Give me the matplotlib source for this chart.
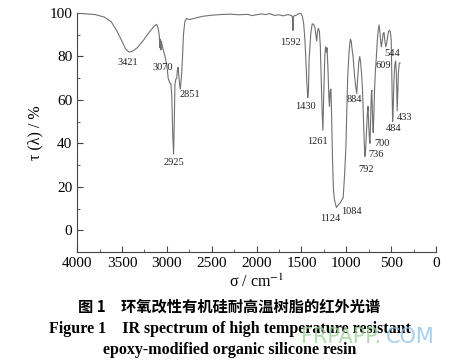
import matplotlib
matplotlib.use("Agg")
import matplotlib.pyplot as plt
from matplotlib.ticker import MultipleLocator

# spectrum (wavenumber / cm-1, transmittance / %)
wavenumber = [4000, 3900, 3800, 3700, 3620, 3560, 3500, 3460, 3421, 3380, 3330, 3260, 3200, 3140,
              3115, 3100, 3085, 3078, 3072, 3066, 3060, 3052, 3040, 3020, 3000, 2985, 2970, 2955,
              2945, 2935, 2925, 2917, 2910, 2900, 2890, 2882, 2875, 2868, 2860, 2851, 2843, 2835,
              2825, 2815, 2800, 2780, 2750, 2700, 2600, 2500, 2400, 2300, 2200, 2100, 2050, 2000,
              1950, 1900, 1850, 1800, 1750, 1700, 1650, 1610, 1600, 1594, 1590, 1560, 1530, 1510,
              1490, 1475, 1462, 1450, 1440, 1430, 1422, 1415, 1405, 1395, 1380, 1365, 1350, 1340,
              1330, 1322, 1312, 1300, 1290, 1280, 1270, 1261, 1252, 1240, 1230, 1222, 1215, 1205,
              1195, 1188, 1180, 1172, 1165, 1155, 1145, 1135, 1124, 1110, 1100, 1084, 1070, 1050,
              1035, 1020, 1005, 995, 985, 970, 955, 945, 935, 925, 910, 895, 884, 875, 862, 850,
              840, 830, 820, 810, 800, 792, 785, 775, 765, 758, 750, 742, 736, 730, 722, 716, 710,
              704, 700, 694, 685, 675, 665, 655, 645, 635, 625, 615, 609, 600, 590, 580, 570, 560,
              550, 540, 530, 520, 510, 500, 492, 484, 478, 470, 460, 450, 442, 437, 433, 428, 420,
              410, 400]
transmittance = [100, 99.6, 99.3, 98.2, 96, 92, 87, 83.5, 82, 82.5, 84, 87.5, 91, 94,
                 94.8, 93.5, 90, 84, 88, 83, 87, 85, 83, 80, 76, 70, 68, 67.5,
                 62, 45, 35, 50, 67, 69.5, 70, 74, 75, 72, 68, 65, 68, 72,
                 80, 90, 96, 97.5, 97, 97.5, 98.5, 99, 99.3, 99.5, 99.2, 99.4, 98.8, 99.2,
                 99.6, 99.3, 99.7, 98.9, 99.2, 98.7, 99.3, 98.8, 98, 92, 98.5, 99, 99.7, 100,
                 98.5, 95, 88, 78, 68, 61, 64, 78, 85, 91, 95, 94.8, 93.5, 90,
                 87, 91, 93, 91.5, 85, 70, 55, 46, 62, 80, 84.5, 82, 84, 75,
                 62, 57, 64, 65, 55, 35, 20, 15, 12.5, 10.5, 11, 12, 12.5, 14,
                 15, 25, 38, 55, 70, 82, 88, 87, 83, 80, 72, 66, 63, 69, 77, 80,
                 77, 72, 65, 52, 40, 34, 37, 46, 54, 57, 48, 42, 40, 50, 62, 64.5, 55,
                 48, 45, 52, 65, 74, 80, 87, 92, 94.5, 91, 86, 84.5, 87, 90.5, 91, 87, 84.5,
                 86, 89, 91.5, 92, 91.5, 88, 70, 50, 55, 68, 76, 78, 72, 62, 55, 62, 72,
                 77, 77]

# peak labels and where they sit
peak_labels = ["3421", "3070", "2851", "2925", "1592", "1430", "1261", "1124", "1084",
               "884", "792", "736", "700", "609", "544", "484", "433"]
label_x = [3432, 3042, 2741, 2920, 1627, 1457, 1323, 1175, 940,
           911, 781, 669, 606, 587, 494, 476, 357]
label_y = [77, 75, 62.6, 31, 86.5, 56.8, 40.7, 5.5, 8.8,
           60, 28, 35, 40, 76, 81.4, 47, 52]

plt.rcParams["font.family"] = ["Liberation Serif", "DejaVu Serif"]
plt.rcParams["mathtext.fontset"] = "stix"

fig = plt.figure(figsize=(4.59, 3.62), dpi=100)
ax = fig.add_axes([0.168, 0.304, 0.782, 0.66])
ax.plot(wavenumber, transmittance, color="#707070", lw=0.8)

for txt, x, y in zip(peak_labels, label_x, label_y):
    ax.text(x, y, txt, fontsize=7.5, ha="center", va="center", color="#222222")

ax.set_xlim(4000, 0)
ax.set_ylim(-10, 100)
ax.xaxis.set_major_locator(MultipleLocator(500))
ax.xaxis.set_minor_locator(MultipleLocator(250))
ax.yaxis.set_major_locator(MultipleLocator(20))
ax.yaxis.set_minor_locator(MultipleLocator(10))
ax.set_yticks([0, 20, 40, 60, 80, 100])
ax.tick_params(which="both", direction="in", labelsize=11, color="#444444")
ax.tick_params(which="major", length=4)
ax.tick_params(which="minor", length=2)
ax.spines["top"].set_visible(False)
ax.spines["right"].set_visible(False)
for s in ("left", "bottom"):
    ax.spines[s].set_color("#444444")
    ax.spines[s].set_linewidth(0.8)

ax.set_xlabel("σ / cm$^{-1}$", fontsize=11.5, labelpad=3)
ax.set_ylabel("τ (λ) / %", fontsize=11.5, labelpad=4)

fig.text(0.5, 0.152, "图 1　环氧改性有机硅耐高温树脂的红外光谱", ha="center", va="center",
         fontsize=11, fontweight="bold", family=["Noto Sans CJK SC", "DejaVu Sans"])
fig.text(0.5, 0.092, "Figure 1    IR spectrum of high temperature resistant", ha="center",
         va="center", fontsize=11.5, fontweight="bold")
fig.text(0.5, 0.034, "epoxy-modified organic silicone resin", ha="center",
         va="center", fontsize=11.5, fontweight="bold")
fig.text(0.655, 0.068, "FRPAPP.", fontsize=15, color="#9fd49a", alpha=0.8,
         family=["DejaVu Sans"], va="center")
fig.text(0.84, 0.068, "COM", fontsize=15, color="#8fc3e8", alpha=0.8,
         family=["DejaVu Sans"], va="center")

fig.savefig("out.png", dpi=100)
